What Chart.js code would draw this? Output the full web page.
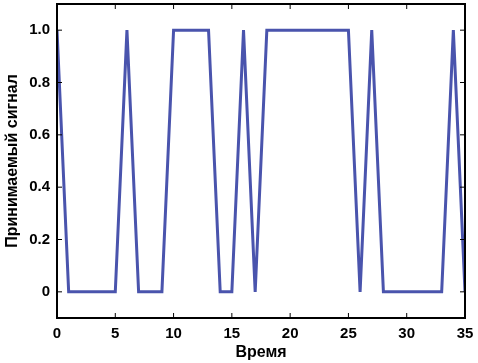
<!DOCTYPE html>
<html lang="ru">
<head>
  <meta charset="UTF-8" />
  <title>Принимаемый сигнал</title>
  <script src="https://cdn.jsdelivr.net/npm/chart.js"></script>
  <style>
    html, body { margin: 0; padding: 0; background: #fff; }
  </style>
</head>
<body>
  <canvas id="chart" width="478" height="363"></canvas>

  <script>
    // данные сигнала
    const time = [0, 1, 2, 3, 4, 5, 6, 7, 8, 9, 10, 11, 12, 13, 14, 15, 16, 17,
                  18, 19, 20, 21, 22, 23, 24, 25, 26, 27, 28, 29, 30, 31, 32, 33, 34, 35];
    const signal = [1, 0, 0, 0, 0, 0, 1, 0, 0, 0, 1, 1, 1, 1, 0, 0, 1, 0,
                    1, 1, 1, 1, 1, 1, 1, 1, 0, 1, 0, 0, 0, 0, 0, 0, 1, 0];
    const xTicks = [0, 5, 10, 15, 20, 25, 30, 35];
    const yTicks = [0, 0.2, 0.4, 0.6, 0.8, 1.0];

    const font = "'Liberation Sans', Arial, sans-serif";

    // рамка и внутренние засечки
    const framePlugin = {
      id: 'frame',
      afterDraw(chart) {
        const { ctx, chartArea: a, scales } = chart;
        ctx.save();
        ctx.strokeStyle = '#000';
        ctx.lineWidth = 1;
        ctx.beginPath();
        xTicks.forEach(v => {
          const px = scales.x.getPixelForValue(v);
          ctx.moveTo(px, a.bottom); ctx.lineTo(px, a.bottom - 5);
          ctx.moveTo(px, a.top); ctx.lineTo(px, a.top + 5);
        });
        yTicks.forEach(v => {
          const py = scales.y.getPixelForValue(v);
          ctx.moveTo(a.left, py); ctx.lineTo(a.left + 5, py);
          ctx.moveTo(a.right, py); ctx.lineTo(a.right - 5, py);
        });
        ctx.stroke();
        ctx.lineWidth = 2;
        ctx.strokeRect(a.left, a.top, a.right - a.left, a.bottom - a.top);
        ctx.restore();
      }
    };

    new Chart(document.getElementById('chart'), {
      type: 'line',
      data: {
        datasets: [{
          data: time.map((t, i) => ({ x: t, y: signal[i] })),
          borderColor: '#4a54ad',
          borderWidth: 3,
          pointRadius: 0,
          tension: 0,
          fill: false
        }]
      },
      options: {
        responsive: false,
        animation: false,
        layout: { padding: { top: 4, right: 13, left: 0, bottom: 0 } },
        plugins: { legend: { display: false }, tooltip: { enabled: false } },
        scales: {
          x: {
            type: 'linear',
            min: 0,
            max: 35,
            afterBuildTicks: s => { s.ticks = xTicks.map(v => ({ value: v })); },
            afterFit: s => { s.height = 45; s.paddingLeft = 0; s.paddingRight = 0; },
            grid: { display: false, drawTicks: false },
            border: { display: false },
            ticks: {
              color: '#000',
              padding: 7,
              maxRotation: 0,
              font: { family: font, size: 15, weight: 'bold' }
            },
            title: {
              display: true,
              text: 'Время',
              color: '#000',
              padding: { top: 0, bottom: 1 },
              font: { family: font, size: 16, weight: 'bold' }
            }
          },
          y: {
            min: -0.1,
            max: 1.1,
            afterBuildTicks: s => { s.ticks = yTicks.map(v => ({ value: v })); },
            afterFit: s => { s.width = 57; s.paddingTop = 0; s.paddingBottom = 0; },
            grid: { display: false, drawTicks: false },
            border: { display: false },
            ticks: {
              color: '#000',
              padding: 7,
              font: { family: font, size: 15, weight: 'bold' },
              callback: v => v === 0 ? '0' : Number(v).toFixed(1)
            },
            title: {
              display: true,
              text: 'Принимаемый сигнал',
              color: '#000',
              padding: { top: 3, bottom: 0 },
              font: { family: font, size: 16, weight: 'bold' }
            }
          }
        }
      },
      plugins: [framePlugin]
    });
  </script>
</body>
</html>
